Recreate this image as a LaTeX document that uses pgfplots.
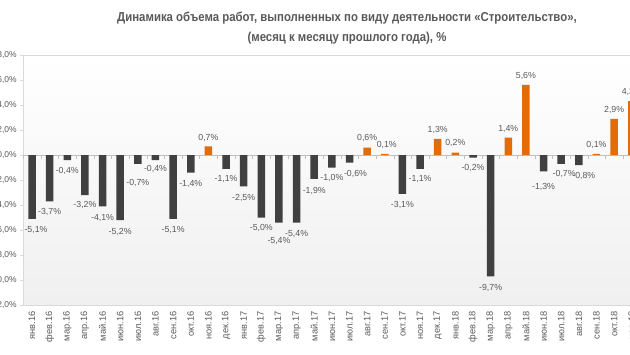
\documentclass[border=0pt]{standalone}
\usepackage{pgfplots}
\usepackage{pgfplotstable}
\pgfplotsset{compat=1.18}
\usepackage{fontspec}
\setmainfont{Liberation Sans}
\newfontfamily\titlefont[FakeStretch=0.88]{Liberation Sans}
\definecolor{barneg}{HTML}{404040}
\definecolor{barpos}{HTML}{E36C0A}
\definecolor{txt}{HTML}{595959}
\definecolor{axgray}{HTML}{D9D9D9}
\definecolor{zerogray}{HTML}{C0C0C0}

\pgfplotstableread{
x y lab yo xo
0 -5.1 -5,1 -4 4
1 -3.7 -3,7 -4 0
2 -0.4 -0,4 -4 0
3 -3.2 -3,2 -3 0
4 -4.1 -4,1 -5 0
5 -5.2 -5,2 -5 0
6 -0.7 -0,7 -12 0
7 -0.4 -0,4 -2 0
8 -5.1 -5,1 -4 0
9 -1.4 -1,4 -4 0
11 -1.1 -1,1 -3 0
12 -2.5 -2,5 -5 0
13 -5.0 -5,0 -3 0
14 -5.4 -5,4 -11 0
15 -5.4 -5,4 -4 0
16 -1.9 -1,9 -5 0
17 -1.0 -1,0 -3 0
18 -0.6 -0,6 -4 6
21 -3.1 -3,1 -4 0
22 -1.1 -1,1 -3 0
25 -0.2 -0,2 -3 0
26 -9.7 -9,7 -5 0
29 -1.3 -1,3 -9 0
30 -0.7 -0,7 -3 3
31 -0.8 -0,8 -4 5
}\negdata

\pgfplotstableread{
x y lab yo xo
10 0.7 0,7 1 0
19 0.6 0,6 2 0
20 0.1 0,1 2 2
23 1.3 1,3 2 0
24 0.2 0,2 2 0
27 1.4 1,4 1 0
28 5.6 5,6 2 0
32 0.1 0,1 2 0
33 2.9 2,9 2 0
34 4.3 4,3 2 0
}\posdata

\begin{document}
\begin{tikzpicture}
\useasboundingbox (-32bp,-200bp) rectangle (598bp,155bp);
\clip (-32bp,-200bp) rectangle (598bp,155bp);
\node[font=\titlefont\bfseries\fontsize{13}{20}\selectfont, text=txt, align=center] at (315bp,127bp)
  {Динамика объема работ, выполненных по виду деятельности «Строительство»,\\(месяц к месяцу прошлого года), \%};
\begin{axis}[
  at={(0,0)}, anchor=origin, x=17.64bp, y=12.5bp,
  xmin=-0.5, xmax=35.5, ymin=-12, ymax=8,
  axis x line=box, axis y line*=left,
  axis line style={draw=axgray},
  ybar, bar width=7.5bp, bar shift=0pt,
  xtick={0,...,35},
  xticklabels={янв.16,фев.16,мар.16,апр.16,май.16,июн.16,июл.16,авг.16,сен.16,окт.16,ноя.16,дек.16,янв.17,фев.17,мар.17,апр.17,май.17,июн.17,июл.17,авг.17,сен.17,окт.17,ноя.17,дек.17,янв.18,фев.18,мар.18,апр.18,май.18,июн.18,июл.18,авг.18,сен.18,окт.18,ноя.18,дек.18},
  xtick style={draw=none},
  x tick label style={rotate=90, anchor=east, font=\fontsize{9.3}{10}\selectfont, text=txt},
  ytick={-12,-10,...,8},
  ytick style={draw=axgray},
  tick align=outside, major tick length=3bp,
  yticklabel={\pgfmathprintnumber[fixed,fixed zerofill,precision=1,use comma]{\tick}\%},
  y tick label style={font=\fontsize{8.5}{10}\selectfont, text=txt},
  /pgf/number format/assume math mode=true,
  axis background/.style={top color=white, bottom color=black!6},
  extra y ticks={0}, extra y tick labels={},
  extra y tick style={grid=major, major grid style={draw=zerogray}, major tick length=0pt},
  point meta=explicit symbolic,
  nodes near coords={\pgfplotspointmeta\%},
  nodes near coords style={font=\fontsize{8.8}{10}\selectfont, text=txt},
]
\addplot[fill=barneg, draw=none,
  visualization depends on={\thisrow{yo}\as\yo},
  visualization depends on={\thisrow{xo}\as\xo},
  nodes near coords style={anchor=north, yshift=\yo pt, xshift=\xo pt}]
  table[x=x, y=y, meta=lab] {\negdata};
\addplot[fill=barpos, draw=none,
  visualization depends on={\thisrow{yo}\as\yo},
  visualization depends on={\thisrow{xo}\as\xo},
  nodes near coords style={anchor=south, yshift=\yo pt, xshift=\xo pt}]
  table[x=x, y=y, meta=lab] {\posdata};
\end{axis}
\begin{axis}[
  at={(0,0)}, anchor=origin, x=17.64bp, y=12.5bp,
  xmin=-0.5, xmax=35.5, ymin=0, ymax=8,
  axis x line*=bottom, axis y line=none,
  x axis line style={draw=none},
  xtick={-0.5,0.5,...,35.5}, xticklabels={},
  xtick style={draw=zerogray},
  tick align=outside, major tick length=4bp,
  ytick=\empty,
]
\end{axis}
\end{tikzpicture}
\end{document}
